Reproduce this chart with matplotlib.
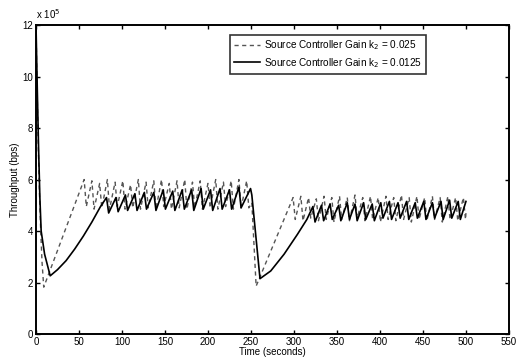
import matplotlib
matplotlib.use("Agg")
import numpy as np
import matplotlib.pyplot as plt

plt.rcParams['font.family'] = ['Liberation Sans', 'DejaVu Sans']

# ---- data (throughput in units of 1e5 bps) ----
# k2 = 0.025 (dashed): initial decay, linear ramp, sawtooth, drop, ramp, sawtooth
dash_start_t = [0, 1, 2.5, 4, 5.5, 7, 9]
dash_start_v = [12.0, 10.0, 7.5, 5.5, 4.0, 2.8, 1.82]
dash_p1_peak_t = [56, 65, 74, 83, 92, 101, 110, 119, 128, 137, 146,
                  155, 164, 173, 182, 191, 200, 209, 218, 227, 236, 245]
dash_p1_peak_v = [6.0, 5.95, 5.85, 6.0, 5.9, 5.95, 5.8, 6.0, 5.9, 5.95, 6.0,
                  5.85, 5.95, 6.0, 5.9, 5.95, 5.85, 6.0, 5.9, 5.95, 6.0, 5.95]
dash_p1_trough_v = [4.95, 4.85, 4.9, 4.85, 4.95, 4.85, 4.9, 4.85, 4.9, 4.85, 4.95,
                    4.85, 4.9, 4.85, 4.9, 4.85, 4.9, 4.85, 4.95, 4.85, 4.9, 4.9]
dash_drop_t = [251, 256]
dash_drop_v = [5.1, 1.86]
dash_p2_peak_t = [299, 308, 317, 326, 335, 344, 353, 362, 371, 380, 389, 398,
                  407, 416, 425, 434, 443, 452, 461, 470, 479, 488, 497]
dash_p2_peak_v = [5.3, 5.35, 5.3, 5.25, 5.35, 5.3, 5.35, 5.3, 5.4, 5.3, 5.35, 5.3,
                  5.35, 5.3, 5.4, 5.3, 5.35, 5.3, 5.35, 5.3, 5.35, 5.3, 5.3]
dash_p2_trough_v = [4.45, 4.4, 4.5, 4.4, 4.45, 4.35, 4.45, 4.4, 4.5, 4.4, 4.45, 4.35,
                    4.45, 4.4, 4.45, 4.35, 4.45, 4.4, 4.45, 4.35, 4.45, 4.4, 4.45]
dash_end_t = [500]
dash_end_v = [4.7]

# k2 = 0.0125 (solid)
solid_start_t = [0, 1.5, 3, 4.5, 6, 10, 16.5, 25, 35, 45, 55, 65, 75]
solid_start_v = [12.0, 9.5, 7.2, 5.3, 4.0, 3.1, 2.26, 2.5, 2.85, 3.3, 3.8, 4.35, 4.95]
solid_p1_peak_t = [82, 93, 104, 115, 126, 137, 148, 159, 170, 181, 192,
                   203, 214, 225, 236, 249.5]
solid_p1_peak_v = [5.3, 5.3, 5.4, 5.45, 5.5, 5.5, 5.6, 5.55, 5.6, 5.6, 5.65,
                   5.6, 5.65, 5.6, 5.7, 5.65]
solid_p1_trough_v = [4.7, 4.75, 4.8, 4.8, 4.85, 4.8, 4.85, 4.8, 4.85, 4.8, 4.85,
                     4.8, 4.85, 4.85, 4.9]
solid_drop_t = [251, 260.5, 273, 288.5, 304, 315]
solid_drop_v = [5.4, 2.15, 2.45, 3.1, 3.87, 4.45]
solid_p2_peak_t = [322, 332, 342, 352, 362, 371, 381, 391, 401, 411,
                   421, 431, 441, 451, 461, 471, 481, 491, 500]
solid_p2_peak_v = [4.95, 5.0, 5.05, 5.0, 5.1, 5.05, 5.1, 5.05, 5.1, 5.15,
                   5.1, 5.15, 5.1, 5.15, 5.1, 5.15, 5.2, 5.15, 5.15]
solid_p2_trough_v = [4.35, 4.4, 4.45, 4.4, 4.45, 4.4, 4.45, 4.4, 4.5, 4.45,
                     4.5, 4.45, 4.5, 4.45, 4.5, 4.45, 4.5, 4.45]


def teeth(peak_t, peak_v, trough_v, fall):
    # interleave peaks with the trough that follows each one
    t, v = [], []
    for i, (pt, pv) in enumerate(zip(peak_t, peak_v)):
        t.append(pt)
        v.append(pv)
        if i < len(trough_v):
            t.append(pt + fall)
            v.append(trough_v[i])
    return t, v


d1t, d1v = teeth(dash_p1_peak_t, dash_p1_peak_v, dash_p1_trough_v, 2.5)
d2t, d2v = teeth(dash_p2_peak_t, dash_p2_peak_v, dash_p2_trough_v, 2.5)
dash_t = dash_start_t + d1t + dash_drop_t + d2t + dash_end_t
dash_v = dash_start_v + d1v + dash_drop_v + d2v + dash_end_v

s1t, s1v = teeth(solid_p1_peak_t, solid_p1_peak_v, solid_p1_trough_v, 2.5)
s2t, s2v = teeth(solid_p2_peak_t, solid_p2_peak_v, solid_p2_trough_v, 2.5)
solid_t = solid_start_t + s1t + solid_drop_t + s2t
solid_v = solid_start_v + s1v + solid_drop_v + s2v

# ---- plot ----
fig = plt.figure(figsize=(5.18, 3.58), dpi=100)
ax = fig.add_axes([0.0695, 0.067, 0.913, 0.863])

ax.plot(dash_t, dash_v, color='#555555', lw=1.0, linestyle=(0, (3, 2.5)),
        label='Source Controller Gain k$_2$ = 0.025')
ax.plot(solid_t, solid_v, color='black', lw=1.2,
        label='Source Controller Gain k$_2$ = 0.0125')

ax.set_xlim(0, 550)
ax.set_ylim(0, 12)
ax.set_xticks(np.arange(0, 551, 50))
ax.set_yticks(np.arange(0, 13, 2))
ax.tick_params(direction='in', top=True, right=True, labelsize=7, length=3,
               width=1, pad=2)
for s in ax.spines.values():
    s.set_linewidth(1.4)

ax.set_xlabel('Time (seconds)', fontsize=7, labelpad=0)
ax.set_ylabel('Throughput (bps)', fontsize=7, labelpad=2)
ax.text(0.0, 1.012, 'x 10$^5$', transform=ax.transAxes, fontsize=7,
        ha='left', va='bottom')

leg = ax.legend(loc='upper right', bbox_to_anchor=(0.835, 0.985), fontsize=7.2,
                frameon=True, fancybox=False, handlelength=2.6,
                borderpad=0.4, labelspacing=0.35, handletextpad=0.4)
leg.get_frame().set_edgecolor('black')
leg.get_frame().set_linewidth(1.2)

fig.savefig('out.png', dpi=100)
